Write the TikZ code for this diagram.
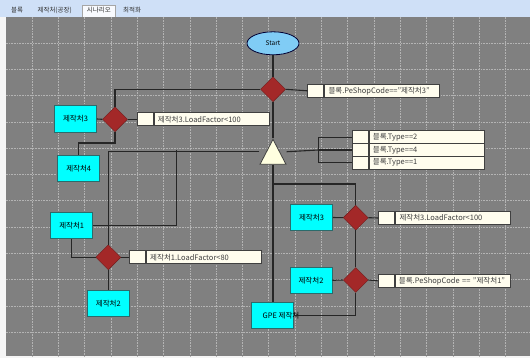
\documentclass[tikz,border=0pt]{standalone}
\usepackage{fontspec}
\setmainfont{Noto Sans CJK KR}
\usetikzlibrary{positioning,shapes.geometric}
\definecolor{tabblue}{HTML}{CFE0F7}
\definecolor{canvasgray}{HTML}{808080}
\definecolor{gridgray}{HTML}{B4B4B4}
\definecolor{plantcyan}{HTML}{00FFFF}
\definecolor{plantedge}{HTML}{2B6B6B}
\definecolor{condred}{HTML}{A32828}
\definecolor{ivory}{HTML}{FFFDEE}
\definecolor{boxline}{HTML}{404040}
\definecolor{startblue}{HTML}{80CCF5}
\definecolor{gatefill}{HTML}{FFFFE0}

\begin{document}
\begin{tikzpicture}[x=1pt, y=-1pt,
    plant/.style={draw=plantedge, fill=plantcyan, line width=0.8pt,
      minimum width=42pt, minimum height=26.5pt, inner sep=0pt,
      font=\fontsize{7.5}{9}\selectfont},
    cond/.style={diamond, fill=condred, draw=condred!70!black, line width=0.4pt,
      minimum width=25pt, minimum height=25pt, inner sep=0pt},
    cell/.style={draw=boxline, fill=ivory, line width=0.8pt,
      minimum width=16pt, minimum height=13pt, inner sep=0pt},
    cond text/.style={cell, minimum width=115pt, text width=107pt, inner xsep=4pt,
      align=left, text=boxline, font=\fontsize{7.5}{9}\selectfont},
    gate/.style={isosceles triangle, isosceles triangle stretches,
      shape border rotate=90, draw=boxline, fill=gatefill, line width=0.8pt,
      minimum width=26pt, minimum height=25pt, inner sep=0pt},
    link/.style={line width=1.1pt, draw=black!85},
    tab/.style={font=\fontsize{6.5}{8}\selectfont, text=black!80}]
  \useasboundingbox (0,0) rectangle (530,358);
  % window frame and tab bar
  \fill[black!4] (0,0) rectangle (530,358);
  \fill[tabblue] (0,0) rectangle (530,17);
  \draw[fill=white!85!tabblue, draw=black!35] (81.7,17) -- (81.7,5) -- (115,5) -- (115,17);
  \node[tab] (tblock) at (17.2,10) {블록};
  \node[tab] (tplant) at (54.7,10) {제작처(공장)};
  \node[tab] (tscen) at (98.8,10.5) {시나리오};
  \node[tab] (topt) at (132.2,10) {최적화};
  % canvas with grid
  \fill[canvasgray] (5.7,16.7) rectangle (530,356);
  \foreach \i in {1,...,19}
    \draw[gridgray, densely dotted, line width=0.6pt] ({5.7+26.3*\i},16.7) -- ({5.7+26.3*\i},356);
  \foreach \j in {1,...,12}
    \draw[gridgray, densely dotted, line width=0.6pt] (5.7,{16.7+26.3*\j}) -- (530,{16.7+26.3*\j});

  % start
  \node[ellipse, draw=black!80!blue, fill=startblue, line width=0.8pt,
    minimum width=52pt, minimum height=23pt, inner sep=0pt,
    font=\fontsize{6.5}{8}\selectfont] (start) at (273,43.3) {Start};
  % first decision
  \node[cond] (d1) at (273,89.3) {};
  \node[cell, anchor=west] (k1) at (307.3,90.8) {};
  \node[cond text, right=0pt of k1] (c1) {블록.PeShopCode=="제작처3"};
  % type switch
  \node[gate, anchor=apex] (tri) at (273,138.3) {};
  \node[cell, anchor=west, minimum height=12.8pt] (k6) at (351.7,137.2) {};
  \node[cond text, minimum height=12.8pt, right=0pt of k6] (c6) {블록.Type==2};
  \node[cell, anchor=west, minimum height=12.8pt] (k7) at (351.7,150) {};
  \node[cond text, minimum height=12.8pt, right=0pt of k7] (c7) {블록.Type==4};
  \node[cell, anchor=west, minimum height=12.8pt] (k8) at (351.7,162.8) {};
  \node[cond text, minimum height=12.8pt, right=0pt of k8] (c8) {블록.Type==1};
  \coordinate (j1) at (176.7,150);
  \coordinate (j2) at (318.3,150);
  \coordinate (j3) at (273,184);

  % left branch
  \node[cond] (d2) at (115,119.3) {};
  \node[plant] (p3l) at (75.5,119) {제작처3};
  \node[cell, anchor=west] (k2) at (136.7,119.3) {};
  \node[cond text, right=0pt of k2] (c2) {제작처3.LoadFactor<100};
  \node[plant] (p4) at (78.7,168.3) {제작처4};
  \node[plant] (p1) at (71.7,225.3) {제작처1};
  \node[cond] (d3) at (108.3,257.3) {};
  \node[cell, anchor=west] (k3) at (129,257.3) {};
  \node[cond text, right=0pt of k3] (c3) {제작처1.LoadFactor<80};
  \node[plant] (p2) at (108.3,303.3) {제작처2};

  % right branch
  \node[cond] (d4) at (355.7,217.7) {};
  \node[plant] (p3r) at (311.5,217.5) {제작처3};
  \node[cell, anchor=west] (k4) at (378.3,218) {};
  \node[cond text, right=0pt of k4] (c4) {제작처3.LoadFactor<100};
  \node[cond] (d5) at (355.7,280) {};
  \node[plant] (p2r) at (311,280.3) {제작처2};
  \node[cell, anchor=west] (k5) at (377.7,280.8) {};
  \node[cond text, right=0pt of k5] (c5) {블록.PeShopCode == "제작처1"};
  \node[plant] (gpe) at (272.5,315.3) {};
  \node[anchor=west, font=\fontsize{7.5}{9}\selectfont] (gpetext) at ([xshift=8pt]gpe.west) {GPE 제작처};

  % connectors
  \draw[link] (start) -- (d1);
  \draw[link] (d1) -- (tri.apex);
  \draw[link] (d1.east) -- (k1.west);
  \draw[link] (d1.west) -| (d2.north);
  \draw[link] (p3l.east) -- (d2.west);
  \draw[link] (d2.east) -- (k2.west);
  \draw[link] (d2.south) -- ++(0,11) -| (p4.north);
  \draw[link] ([yshift=13pt]tri.left corner) -| (d3.north);
  \draw[link] (p1.east) -| (j1);
  \draw[link] (p1.south) |- (d3.west);
  \draw[link] (d3.east) -- (k3.west);
  \draw[link] (d3.south) -- (p2.north);
  \draw[link] ([yshift=13pt]tri.right corner) -- (j2);
  \draw[link] (k6.west) -| (j2) |- (k8.west);
  \draw[link] (j2) -- (k7.west);
  \draw[link] (tri.lower side) -- (tri.lower side |- gpe.north);
  \draw[link] (j3) -| (d4.north);
  \draw[link] (p3r.east) -- (d4.west);
  \draw[link] (d4.east) -- (k4.west);
  \draw[link] (d4.south) -- (d5.north);
  \draw[link] (p2r.east) -- (d5.west);
  \draw[link] (d5.east) -- (k5.west);
  \draw[link] (d5.south) |- (gpe.east);
\end{tikzpicture}
\end{document}
